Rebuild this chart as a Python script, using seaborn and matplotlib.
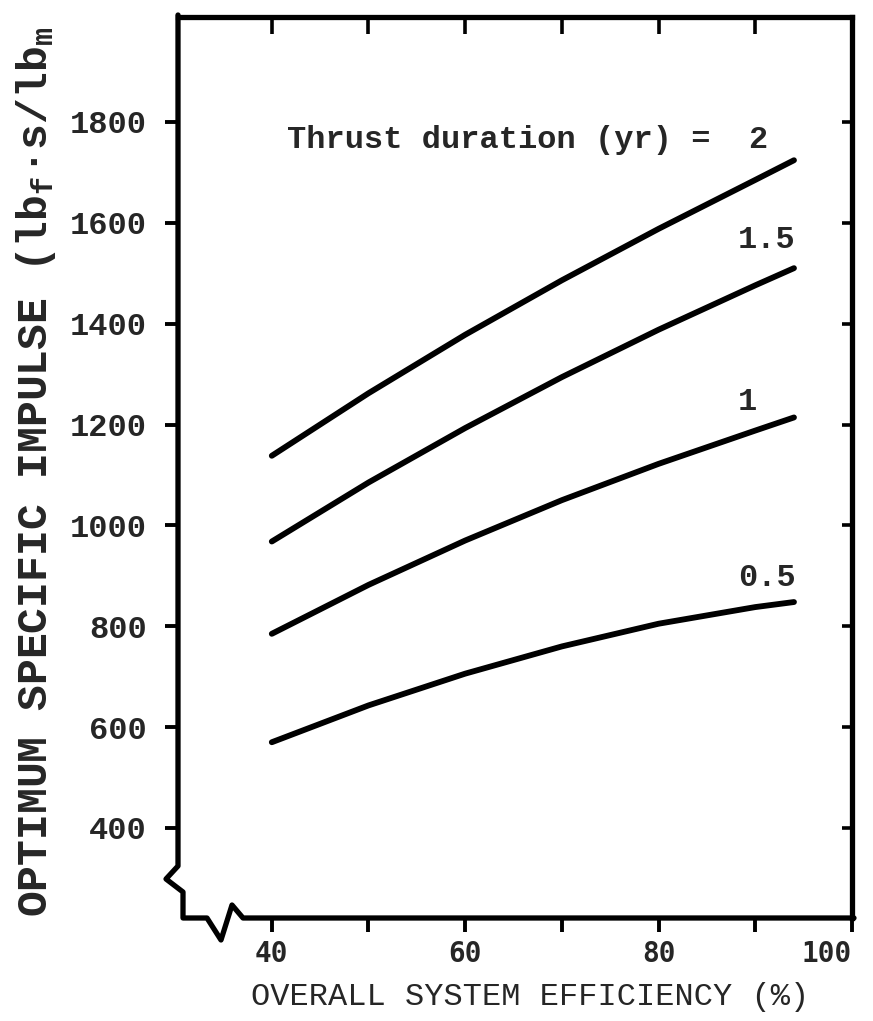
import numpy as np
import pandas as pd
import matplotlib
matplotlib.use("Agg")
import matplotlib.pyplot as plt
from matplotlib.lines import Line2D
import seaborn as sns

# Overall system efficiency (%) sampled along each curve
efficiency = [40, 50, 60, 70, 80, 90, 94]

# Optimum specific impulse (lbf*s/lbm) for each thrust duration (yr)
isp_2yr = [1138, 1262, 1378, 1486, 1588, 1685, 1724]
isp_1p5yr = [968, 1085, 1193, 1294, 1388, 1476, 1510]
isp_1yr = [785, 882, 970, 1050, 1122, 1188, 1214]
isp_0p5yr = [570, 643, 706, 760, 805, 838, 848]

durations = ["2", "1.5", "1", "0.5"]
series = [isp_2yr, isp_1p5yr, isp_1yr, isp_0p5yr]

x_ticks = [40, 50, 60, 70, 80, 90, 100]
x_ticklabels = ["40", "", "60", "", "80", "", "100"]
y_ticks = [400, 600, 800, 1000, 1200, 1400, 1600, 1800]

df = pd.concat(
    [pd.DataFrame({"efficiency": efficiency, "isp": vals, "duration": d})
     for d, vals in zip(durations, series)],
    ignore_index=True,
)

sns.set_theme(style="white")
plt.rcParams["font.family"] = ["Liberation Mono", "DejaVu Sans"]
plt.rcParams["mathtext.default"] = "regular"

W, H = 873, 1021
fig = plt.figure(figsize=(W / 100, H / 100), dpi=100)
L, R, T, B = 178, 852, 17, 918
ax = fig.add_axes([L / W, 1 - B / H, (R - L) / W, (B - T) / H])

sns.lineplot(
    data=df, x="efficiency", y="isp", hue="duration", hue_order=durations,
    palette=["black"] * 4, linewidth=4.2, legend=False, ax=ax,
    solid_capstyle="round", solid_joinstyle="round",
)

ax.set_xlim(30.3, 100)
ax.set_ylim(221.5, 2008)

# frame: right and top spines kept, left/bottom drawn with break marks
for s in ["left", "bottom"]:
    ax.spines[s].set_visible(False)
for s in ["right", "top"]:
    ax.spines[s].set_linewidth(3.8)
    ax.spines[s].set_color("black")


def px(xp, yp):
    return ((xp - L) / (R - L), (B - yp) / (B - T))


frame_pts = [(L, T - 2), (L, 866), (166, 879), (183, 892), (183, B),
             (207, B), (221, 940), (232, 905), (243, B), (R + 2, B)]
fx, fy = zip(*[px(a, b) for a, b in frame_pts])
ax.add_line(Line2D(fx, fy, transform=ax.transAxes, color="black",
                   linewidth=3.8, clip_on=False, solid_joinstyle="round",
                   solid_capstyle="round"))

# bottom ticks (outward) with labels
ax.set_xticks(x_ticks)
ax.set_xticklabels(x_ticklabels, family=["DejaVu Sans Mono"], fontsize=20,
                   fontweight="bold")
ax.get_xticklabels()[-1].set_horizontalalignment("right")
ax.tick_params(axis="x", which="major", bottom=True, top=False,
               direction="out", length=10, width=2.8, pad=6, color="black")

# left ticks (outward) with bold labels
ax.set_yticks(y_ticks)
ax.set_yticklabels([str(v) for v in y_ticks], fontsize=23, fontweight="bold")
ax.tick_params(axis="y", which="major", left=True, right=False,
               direction="out", length=9.5, width=2.8, pad=13, color="black")

# top and right ticks point inward, unlabeled
top = ax.secondary_xaxis("top")
top.set_xticks(x_ticks[:-1])
top.set_xticklabels([])
top.tick_params(direction="in", length=12, width=2.6, color="black")
top.spines["top"].set_visible(False)

right = ax.secondary_yaxis("right")
right.set_yticks(y_ticks)
right.set_yticklabels([])
right.tick_params(direction="in", length=7, width=2.6, color="black")
right.spines["right"].set_visible(False)

ax.set_xlabel("OVERALL SYSTEM EFFICIENCY (%)", fontsize=23)
ax.xaxis.set_label_coords(*px(530, 997))
ax.xaxis.label.set_va("center")

ax.set_ylabel("OPTIMUM SPECIFIC IMPULSE (lb$_f$·s/lb$_m$", fontsize=31,
              fontweight="bold")
ax.yaxis.set_label_coords(*px(36, 472))
ax.yaxis.label.set_va("center")

# curve labels
lab_kw = dict(fontsize=23, fontweight="bold", ha="center", va="center")
ax.text(66.5, 1764, "Thrust duration (yr) =  2", **lab_kw)
ax.text(91.2, 1566, "1.5", **lab_kw)
ax.text(89.2, 1245, "1", **lab_kw)
ax.text(91.2, 896, "0.5", **lab_kw)

fig.savefig("out.png", dpi=100, facecolor="white")
